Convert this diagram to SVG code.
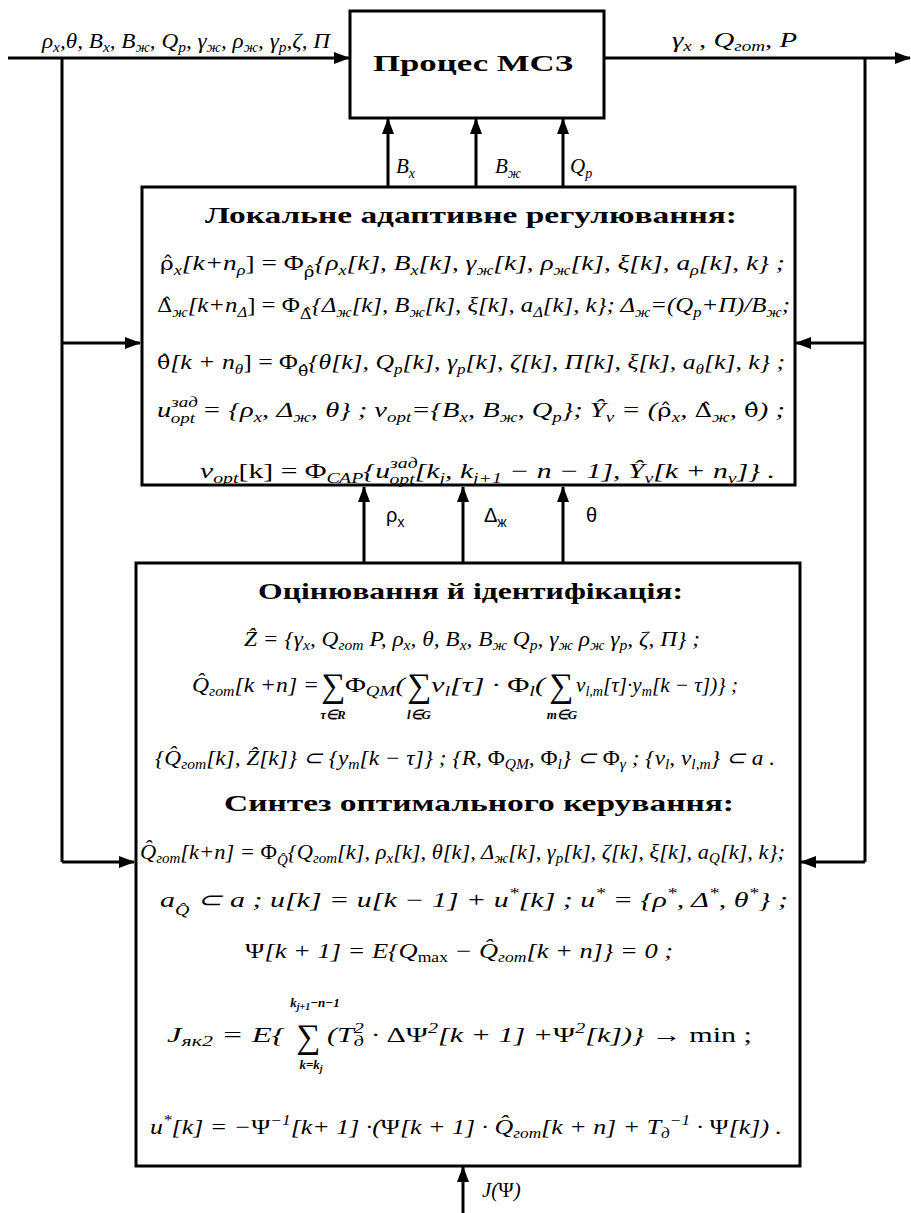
<svg xmlns="http://www.w3.org/2000/svg" width="911" height="1213" viewBox="0 0 911 1213">
<style>
.box{fill:#fff;stroke:#000;stroke-width:3}
.ln{fill:none;stroke:#000;stroke-width:3}
.f{font-family:"Liberation Serif","Times New Roman",serif;font-size:21px;font-style:italic;fill:#000}
.u{font-style:normal}
.k{font-family:"DejaVu Serif",serif;font-style:normal;font-size:18px}
.s{font-size:14px}
.h{font-family:"Liberation Serif","Times New Roman",serif;font-weight:bold;font-size:24px;fill:#000}
.g{font-family:"Liberation Sans",Arial,sans-serif;font-size:20px;fill:#000}
.big{font-family:"Liberation Serif",serif;font-size:34px;font-style:normal}
.lim{font-family:"Liberation Serif",serif;font-size:13px;font-style:italic;font-weight:bold}
</style>
<defs>
<marker id="ar" markerUnits="userSpaceOnUse" markerWidth="16" markerHeight="12" refX="15" refY="6" orient="auto">
<path d="M0,0 L16,6 L0,12 z" fill="#000"/>
</marker>
</defs>

<g id="connectors">
<path class="ln" d="M8,58 H349" marker-end="url(#ar)"/>
<path class="ln" d="M604,58 H910" marker-end="url(#ar)"/>
<path class="ln" d="M62,58 V862"/>
<path class="ln" d="M865,58 V862"/>
<path class="ln" d="M62,343 H140" marker-end="url(#ar)"/>
<path class="ln" d="M865,343 H796" marker-end="url(#ar)"/>
<path class="ln" d="M62,862 H134" marker-end="url(#ar)"/>
<path class="ln" d="M865,862 H801" marker-end="url(#ar)"/>
<path class="ln" d="M388,187 V119" marker-end="url(#ar)"/>
<path class="ln" d="M476,187 V119" marker-end="url(#ar)"/>
<path class="ln" d="M563,187 V119" marker-end="url(#ar)"/>
<path class="ln" d="M364,563 V487" marker-end="url(#ar)"/>
<path class="ln" d="M463,563 V487" marker-end="url(#ar)"/>
<path class="ln" d="M563,563 V487" marker-end="url(#ar)"/>
<path class="ln" d="M463,1213 V1167" marker-end="url(#ar)"/>
<text class="f" x="42" y="48" textLength="288" lengthAdjust="spacingAndGlyphs" font-size="18">ρ<tspan class="s" dy="4">х</tspan><tspan dy="-4">,θ, B</tspan><tspan class="s" dy="4">х</tspan><tspan dy="-4">, B</tspan><tspan class="s" dy="4">ж</tspan><tspan dy="-4">, Q</tspan><tspan class="s" dy="4">р</tspan><tspan dy="-4">, γ</tspan><tspan class="s" dy="4">ж</tspan><tspan dy="-4">, ρ</tspan><tspan class="s" dy="4">ж</tspan><tspan dy="-4">, γ</tspan><tspan class="s" dy="4">р</tspan><tspan dy="-4">,ζ, П</tspan></text>
<text class="f" x="672" y="47" textLength="125" lengthAdjust="spacingAndGlyphs" font-size="18">γ<tspan class="s" dy="4">х</tspan><tspan dy="-4"> , Q</tspan><tspan class="s" dy="4">гот</tspan><tspan dy="-4">, P</tspan></text>
<text class="f" x="396" y="173">B<tspan class="s" dy="5">х</tspan></text>
<text class="f" x="495" y="173">B<tspan class="s" dy="5">ж</tspan></text>
<text class="f" x="570" y="173">Q<tspan class="s" dy="5">р</tspan></text>
<text class="g" x="386" y="522">ρ<tspan font-size="14" dy="5">х</tspan></text>
<text class="g" x="484" y="522">Δ<tspan font-size="14" dy="5">ж</tspan></text>
<text class="g" x="586" y="522">θ</text>
<text class="f" x="482" y="1197">J(<tspan class="u">Ψ</tspan>)</text>
</g>

<g id="process">
<rect class="box" x="350" y="11" width="254" height="107"/>
<text class="h" x="373" y="71" textLength="200" lengthAdjust="spacingAndGlyphs">Процес  МСЗ</text>
</g>

<g id="local-regulation">
<rect class="box" x="142" y="187" width="653" height="298"/>
<text class="h" x="205" y="223" textLength="532" lengthAdjust="spacingAndGlyphs">Локальне адаптивне регулювання:</text>
<text class="f" x="160" y="270" textLength="625" lengthAdjust="spacingAndGlyphs"><tspan class="k">ρ̂</tspan><tspan class="s" dy="5">х</tspan><tspan dy="-5">[k+n</tspan><tspan class="s" dy="5">ρ</tspan><tspan dy="-5" class="u">] = Φ</tspan><tspan class="k s" dy="7">ρ̂</tspan><tspan dy="-7">{ρ</tspan><tspan class="s" dy="5">х</tspan><tspan dy="-5">[k], B</tspan><tspan class="s" dy="5">х</tspan><tspan dy="-5">[k], γ</tspan><tspan class="s" dy="5">ж</tspan><tspan dy="-5">[k], ρ</tspan><tspan class="s" dy="5">ж</tspan><tspan dy="-5">[k], ξ[k], a</tspan><tspan class="s" dy="5">ρ</tspan><tspan dy="-5">[k], k} ;</tspan></text>
<text class="f" x="157" y="312" textLength="633" lengthAdjust="spacingAndGlyphs"><tspan class="k">Δ̂</tspan><tspan class="s" dy="5">ж</tspan><tspan dy="-5">[k+n</tspan><tspan class="s" dy="5">Δ</tspan><tspan dy="-5" class="u">] = Φ</tspan><tspan class="k s" dy="7">Δ̂</tspan><tspan dy="-7">{Δ</tspan><tspan class="s" dy="5">ж</tspan><tspan dy="-5">[k], B</tspan><tspan class="s" dy="5">ж</tspan><tspan dy="-5">[k], ξ[k], a</tspan><tspan class="s" dy="5">Δ</tspan><tspan dy="-5">[k], k};  Δ</tspan><tspan class="s" dy="5">ж</tspan><tspan dy="-5">=(Q</tspan><tspan class="s" dy="5">р</tspan><tspan dy="-5">+П)/B</tspan><tspan class="s" dy="5">ж</tspan><tspan dy="-5">;</tspan></text>
<text class="f" x="157" y="369" textLength="628" lengthAdjust="spacingAndGlyphs"><tspan class="k">θ̂</tspan>[k + n<tspan class="s" dy="5">θ</tspan><tspan dy="-5" class="u">] = Φ</tspan><tspan class="k s" dy="7">θ̂</tspan><tspan dy="-7">{θ[k], Q</tspan><tspan class="s" dy="5">р</tspan><tspan dy="-5">[k], γ</tspan><tspan class="s" dy="5">р</tspan><tspan dy="-5">[k], ζ[k], П[k], ξ[k], a</tspan><tspan class="s" dy="5">θ</tspan><tspan dy="-5">[k], k} ;</tspan></text>
<text class="f" x="157" y="417" textLength="628" lengthAdjust="spacingAndGlyphs">u<tspan class="s" dy="-10">зад</tspan><tspan class="s" dx="-20" dy="16">opt</tspan><tspan dy="-6"> = {ρ</tspan><tspan class="s" dy="5">х</tspan><tspan dy="-5">, Δ</tspan><tspan class="s" dy="5">ж</tspan><tspan dy="-5">, θ} ;  ν</tspan><tspan class="s" dy="5">opt</tspan><tspan dy="-5">={B</tspan><tspan class="s" dy="5">х</tspan><tspan dy="-5">, B</tspan><tspan class="s" dy="5">ж</tspan><tspan dy="-5">, Q</tspan><tspan class="s" dy="5">р</tspan><tspan dy="-5">};  Ŷ</tspan><tspan class="s" dy="5">ν</tspan><tspan dy="-5"> = (</tspan><tspan class="k">ρ̂</tspan><tspan class="s" dy="5">х</tspan><tspan dy="-5">, </tspan><tspan class="k">Δ̂</tspan><tspan class="s" dy="5">ж</tspan><tspan dy="-5">, </tspan><tspan class="k">θ̂</tspan><tspan>) ;</tspan></text>
<text class="f" x="200" y="478" textLength="575" lengthAdjust="spacingAndGlyphs">ν<tspan class="s" dy="5">opt</tspan><tspan dy="-5" class="u">[k] = Φ</tspan><tspan class="s" dy="5">САР</tspan><tspan dy="-5">{u</tspan><tspan class="s" dy="-10">зад</tspan><tspan class="s" dx="-20" dy="16">opt</tspan><tspan dy="-6">[k</tspan><tspan class="s" dy="5">j</tspan><tspan dy="-5">, k</tspan><tspan class="s" dy="5">j+1</tspan><tspan dy="-5"> − n − 1], Ŷ</tspan><tspan class="s" dy="5">ν</tspan><tspan dy="-5">[k + n</tspan><tspan class="s" dy="5">ν</tspan><tspan dy="-5">]} .</tspan></text>
</g>

<g id="estimation-synthesis">
<rect class="box" x="136" y="563" width="664" height="603"/>
<text class="h" x="258" y="599" textLength="425" lengthAdjust="spacingAndGlyphs">Оцінювання й ідентифікація:</text>
<text class="f" x="244" y="646" textLength="456" lengthAdjust="spacingAndGlyphs" font-size="19">Ẑ = {γ<tspan class="s" dy="4">х</tspan><tspan dy="-4">, Q</tspan><tspan class="s" dy="4">гот</tspan><tspan dy="-4"> P, ρ</tspan><tspan class="s" dy="4">х</tspan><tspan dy="-4">, θ, B</tspan><tspan class="s" dy="4">х</tspan><tspan dy="-4">, B</tspan><tspan class="s" dy="4">ж</tspan><tspan dy="-4"> Q</tspan><tspan class="s" dy="4">р</tspan><tspan dy="-4">, γ</tspan><tspan class="s" dy="4">ж</tspan><tspan dy="-4"> ρ</tspan><tspan class="s" dy="4">ж</tspan><tspan dy="-4"> γ</tspan><tspan class="s" dy="4">р</tspan><tspan dy="-4">, ζ, П} ;</tspan></text>
<text class="f" x="192" y="692" textLength="127" lengthAdjust="spacingAndGlyphs">Q̂<tspan class="s" dy="4">гот</tspan><tspan dy="-4">[k +n] =</tspan></text>
<text class="f big" x="321" y="697">∑</text>
<text class="f" x="345" y="692" textLength="60" lengthAdjust="spacingAndGlyphs"><tspan class="u">Φ</tspan><tspan class="s" dy="4">QM</tspan><tspan dy="-4">(</tspan></text>
<text class="f big" x="407" y="697">∑</text>
<text class="f" x="431" y="692" textLength="114" lengthAdjust="spacingAndGlyphs">v<tspan class="s" dy="4">l</tspan><tspan dy="-4">[τ] · </tspan><tspan class="u">Φ</tspan><tspan class="s" dy="4">l</tspan><tspan dy="-4">(</tspan></text>
<text class="f big" x="549" y="697">∑</text>
<text class="f" x="576" y="692" textLength="162" lengthAdjust="spacingAndGlyphs">v<tspan class="s" dy="4">l,m</tspan><tspan dy="-4">[τ]·y</tspan><tspan class="s" dy="4">m</tspan><tspan dy="-4">[k − τ])} ;</tspan></text>
<text class="lim" x="333" y="719" text-anchor="middle">τ∈R</text>
<text class="lim" x="419" y="719" text-anchor="middle">l∈G</text>
<text class="lim" x="562" y="719" text-anchor="middle">m∈G</text>
<text class="f" x="155" y="765" textLength="620" lengthAdjust="spacingAndGlyphs" font-size="19">{Q̂<tspan class="s" dy="4">гот</tspan><tspan dy="-4">[k], Ẑ[k]} ⊂ {y</tspan><tspan class="s" dy="4">m</tspan><tspan dy="-4">[k − τ]} ; {R, </tspan><tspan class="u">Φ</tspan><tspan class="s" dy="4">QM</tspan><tspan dy="-4">, </tspan><tspan class="u">Φ</tspan><tspan class="s" dy="4">l</tspan><tspan dy="-4">} ⊂ </tspan><tspan class="u">Φ</tspan><tspan class="s" dy="4">γ</tspan><tspan dy="-4"> ; {v</tspan><tspan class="s" dy="4">l</tspan><tspan dy="-4">, v</tspan><tspan class="s" dy="4">l,m</tspan><tspan dy="-4">} ⊂ a .</tspan></text>
<text class="h" x="224" y="811" textLength="510" lengthAdjust="spacingAndGlyphs">Синтез оптимального керування:</text>
<text class="f" x="140" y="859" textLength="645" lengthAdjust="spacingAndGlyphs" font-size="19">Q̂<tspan class="s" dy="4">гот</tspan><tspan dy="-4">[k+n] = </tspan><tspan class="u">Φ</tspan><tspan class="s" dy="6">Q̂</tspan><tspan dy="-6">{Q</tspan><tspan class="s" dy="4">гот</tspan><tspan dy="-4">[k], ρ</tspan><tspan class="s" dy="4">х</tspan><tspan dy="-4">[k], θ[k], Δ</tspan><tspan class="s" dy="4">ж</tspan><tspan dy="-4">[k], γ</tspan><tspan class="s" dy="4">р</tspan><tspan dy="-4">[k], ζ[k], ξ[k], a</tspan><tspan class="s" dy="4">Q</tspan><tspan dy="-4">[k], k};</tspan></text>
<text class="f" x="160" y="907" textLength="628" lengthAdjust="spacingAndGlyphs">a<tspan class="s" dy="8">Q̂</tspan><tspan dy="-8"> ⊂ a ;    u[k] = u[k − 1] + u</tspan><tspan class="s" dy="-9">*</tspan><tspan dy="9">[k] ;    u</tspan><tspan class="s" dy="-9">*</tspan><tspan dy="9"> = {ρ</tspan><tspan class="s" dy="-9">*</tspan><tspan dy="9">, Δ</tspan><tspan class="s" dy="-9">*</tspan><tspan dy="9">, θ</tspan><tspan class="s" dy="-9">*</tspan><tspan dy="9">} ;</tspan></text>
<text class="f" x="245" y="958" textLength="428" lengthAdjust="spacingAndGlyphs"><tspan class="u">Ψ</tspan>[k + 1] = E{Q<tspan class="s u" dy="4">max</tspan><tspan dy="-4"> − Q̂</tspan><tspan class="s" dy="4">гот</tspan><tspan dy="-4">[k + n]} = 0 ;</tspan></text>
<text class="f" x="167" y="1042" textLength="118" lengthAdjust="spacingAndGlyphs">J<tspan class="s" dy="4">як2</tspan><tspan dy="-4"> = E{</tspan></text>
<text class="f big" x="296" y="1048">∑</text>
<text class="lim" x="315" y="1007" text-anchor="middle">k<tspan font-size="10" dy="3">j+1</tspan><tspan dy="-3">−n−1</tspan></text>
<text class="lim" x="311" y="1069" text-anchor="middle">k=k<tspan font-size="10" dy="3">j</tspan></text>
<text class="f" x="327" y="1042" textLength="425" lengthAdjust="spacingAndGlyphs">(T<tspan class="s" dy="-9">2</tspan><tspan class="s" dx="-7" dy="13">д</tspan><tspan dy="-4"> · </tspan><tspan class="u">ΔΨ</tspan><tspan class="s" dy="-9">2</tspan><tspan dy="9">[k + 1] +</tspan><tspan class="u">Ψ</tspan><tspan class="s" dy="-9">2</tspan><tspan dy="9">[k])} → </tspan><tspan class="u">min ;</tspan></text>
<text class="f" x="150" y="1134" textLength="632" lengthAdjust="spacingAndGlyphs">u<tspan class="s" dy="-9">*</tspan><tspan dy="9">[k] = −</tspan><tspan class="u">Ψ</tspan><tspan class="s" dy="-9">−1</tspan><tspan dy="9">[k+ 1] ·(</tspan><tspan class="u">Ψ</tspan>[k + 1] · Q̂<tspan class="s" dy="4">гот</tspan><tspan dy="-4">[k + n] + T</tspan><tspan class="s" dy="4">д</tspan><tspan class="s" dy="-13">−1</tspan><tspan dy="9"> · </tspan><tspan class="u">Ψ</tspan>[k]) .</text>
</g>
</svg>
